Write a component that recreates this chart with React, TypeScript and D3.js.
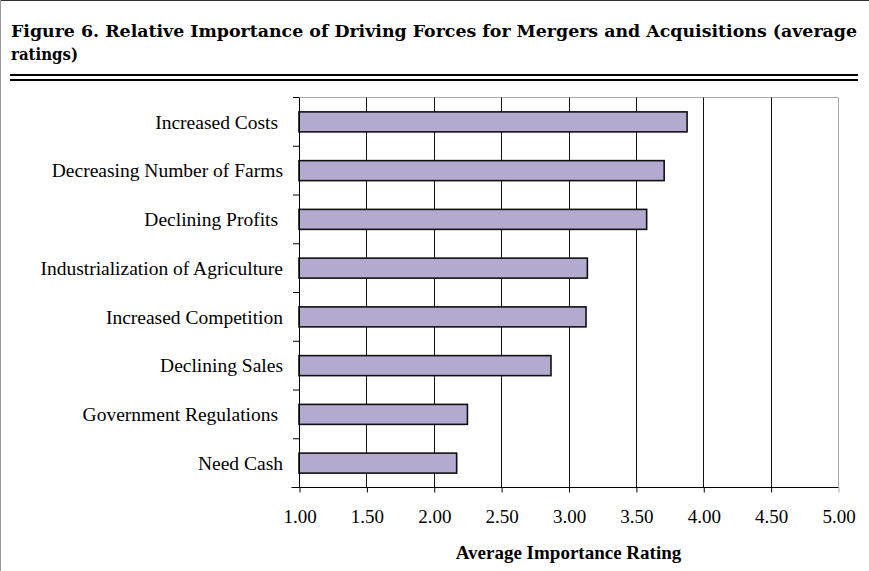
import React, { useEffect, useRef } from 'react';
import * as d3 from 'd3';

// categories top to bottom, trailing spaces kept as in the original labels
const categories = [
  'Increased Costs ',
  'Decreasing Number of Farms',
  'Declining Profits ',
  'Industrialization of Agriculture',
  'Increased Competition',
  'Declining Sales',
  'Government Regulations ',
  'Need Cash',
];
const ratings = [3.88, 3.71, 3.58, 3.14, 3.13, 2.87, 2.25, 2.17];
const xTicks = [1, 1.5, 2, 2.5, 3, 3.5, 4, 4.5, 5];

const titleLines = [
  'Figure 6. Relative Importance of Driving Forces for Mergers and Acquisitions (average',
  'ratings)',
];
const xTitle = 'Average Importance Rating';

const App = () => {
  const svgRef = useRef<SVGSVGElement>(null);

  useEffect(() => {
    const width = 869;
    const height = 571;
    const plot = { left: 299, right: 838, top: 97.5, bottom: 487.5 };
    const serif = '"Liberation Serif", "Times New Roman", serif';

    const svg = d3.select(svgRef.current)
      .attr('width', width)
      .attr('height', height)
      .attr('viewBox', [0, 0, width, height].join(' '));
    svg.selectAll('*').remove();

    svg.append('rect').attr('width', width).attr('height', height).attr('fill', '#fff');

    // frame of the figure (only top and left are visible)
    svg.append('line').attr('x1', 0).attr('x2', width).attr('y1', 0.5).attr('y2', 0.5)
      .attr('stroke', '#333');
    svg.append('line').attr('x1', 0.5).attr('x2', 0.5).attr('y1', 0).attr('y2', height)
      .attr('stroke', '#999');

    // title - bold serif, fitted to the original widths
    const title = svg.append('g')
      .attr('font-family', '"DejaVu Serif", serif')
      .attr('font-weight', 'bold')
      .attr('font-size', 17.5)
      .attr('fill', '#000');
    title.append('text').attr('x', 11).attr('y', 37)
      .attr('textLength', 846).attr('lengthAdjust', 'spacingAndGlyphs')
      .text(titleLines[0]);
    title.append('text').attr('x', 11).attr('y', 60)
      .attr('textLength', 67).attr('lengthAdjust', 'spacingAndGlyphs')
      .text(titleLines[1]);

    // double rule under the title
    [75, 80].forEach(y => {
      svg.append('line').attr('x1', 10).attr('x2', 858).attr('y1', y).attr('y2', y)
        .attr('stroke', '#000').attr('stroke-width', 2);
    });

    const x = d3.scaleLinear().domain([1, 5]).range([plot.left, plot.right]);
    const y = d3.scaleBand<string>()
      .domain(categories)
      .range([plot.top, plot.bottom])
      .paddingInner(0.59)
      .paddingOuter(0.295);
    const step = y.step();

    // plot border top (light gray)
    svg.append('line').attr('x1', plot.left).attr('x2', plot.right)
      .attr('y1', plot.top).attr('y2', plot.top).attr('stroke', '#aaa');

    // vertical gridlines
    svg.append('g').selectAll('line')
      .data(xTicks.slice(1))
      .join('line')
      .attr('x1', d => Math.round(x(d)) + 0.5)
      .attr('x2', d => Math.round(x(d)) + 0.5)
      .attr('y1', plot.top)
      .attr('y2', plot.bottom)
      .attr('stroke', d => (d === 5 ? '#aaa' : '#111'));

    // bars
    svg.append('g').selectAll('rect')
      .data(ratings)
      .join('rect')
      .attr('x', x(1))
      .attr('y', (d, i) => y(categories[i])!)
      .attr('width', d => x(d) - x(1))
      .attr('height', y.bandwidth())
      .attr('fill', '#b4a9cf')
      .attr('stroke', '#111')
      .attr('stroke-width', 1.6);

    // y axis line and ticks between categories
    const yAxis = svg.append('g').attr('stroke', '#000');
    yAxis.append('line')
      .attr('x1', plot.left + 0.5).attr('x2', plot.left + 0.5)
      .attr('y1', plot.top).attr('y2', plot.bottom);
    yAxis.selectAll('line.tick')
      .data(d3.range(categories.length + 1))
      .join('line')
      .attr('class', 'tick')
      .attr('x1', plot.left - 6).attr('x2', plot.left)
      .attr('y1', i => plot.top + i * step)
      .attr('y2', i => plot.top + i * step);

    // x axis
    const xAxis = svg.append('g')
      .attr('transform', `translate(0.5,${plot.bottom})`)
      .call(d3.axisBottom(x).tickValues(xTicks).tickFormat(d3.format('.2f')).tickSize(5).tickPadding(17));
    xAxis.select('.domain').attr('stroke', '#000').attr('d', `M${plot.left - 8},0H${plot.right}`);
    xAxis.selectAll('.tick line').attr('stroke', (d: any) => (d === 5 ? '#aaa' : '#000'));
    xAxis.selectAll('.tick text')
      .attr('font-family', serif)
      .attr('font-size', 19)
      .attr('fill', '#000');

    // category labels
    svg.append('g')
      .attr('font-family', serif)
      .attr('font-size', 19.5)
      .attr('text-anchor', 'end')
      .selectAll('text')
      .data(categories)
      .join('text')
      .attr('x', 283)
      .attr('y', d => y(d)! + y.bandwidth() / 2)
      .attr('dy', '0.34em')
      .style('white-space', 'pre')
      .text(d => d);

    // x axis title
    svg.append('text')
      .attr('x', (plot.left + plot.right) / 2)
      .attr('y', 559)
      .attr('text-anchor', 'middle')
      .attr('font-family', serif)
      .attr('font-weight', 'bold')
      .attr('font-size', 19)
      .text(xTitle);
  }, []);

  return <svg ref={svgRef} style={{ position: 'absolute', left: 0, top: 0, display: 'block' }}></svg>;
};

export default App;
